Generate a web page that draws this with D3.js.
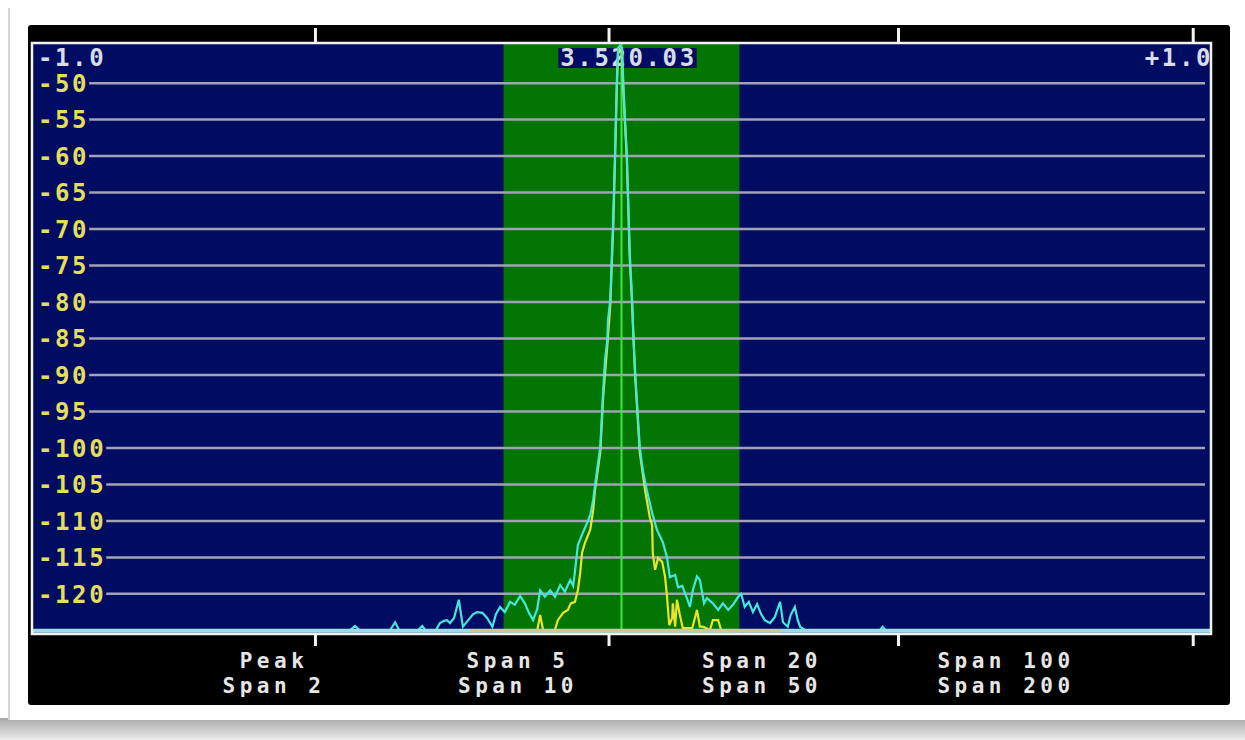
<!DOCTYPE html>
<html>
<head>
<meta charset="utf-8">
<script src="https://d3js.org/d3.v7.min.js"></script>
<style>
body { margin: 0; background: #fff; }
text { font-family: "DejaVu Sans Mono", monospace; font-weight: bold; font-size: 24px; letter-spacing: 2.6px; }
text.span { font-size: 21px; letter-spacing: 4.5px; }
</style>
</head>
<body>
<svg id="chart" width="1245" height="740"></svg>
<script>
// --- data ---
var dbTicks = [-50, -55, -60, -65, -70, -75, -80, -85, -90, -95, -100, -105, -110, -115, -120];
var freqTicks = [-0.52, -0.022, 0.469, 0.969];   // kHz offset of the tick marks
var passband = [-0.2, 0.2];
var centerLabel = "3.520.03";
var edgeLabels = ["-1.0", "+1.0"];
var spanTop = ["Peak", "Span 5", "Span 20", "Span 100"];
var spanBottom = ["Span 2", "Span 10", "Span 50", "Span 200"];

// cyan trace (offset kHz, dB)
var cyanOffset = [-1.0, -0.461, -0.452, -0.444, -0.393, -0.384, -0.377, -0.345, -0.338, -0.332,
  -0.315, -0.308, -0.301, -0.296, -0.291, -0.284, -0.276, -0.269, -0.260, -0.252, -0.245, -0.236,
  -0.228, -0.219, -0.213, -0.206, -0.198, -0.189, -0.181, -0.172, -0.164, -0.157, -0.150, -0.143,
  -0.138, -0.130, -0.121, -0.113, -0.104, -0.096, -0.087, -0.082, -0.079, -0.074, -0.065, -0.060,
  -0.053, -0.048, -0.042, -0.036, -0.031, -0.028, -0.024, -0.023, -0.019, -0.016, -0.014, -0.011,
  -0.008, -0.006, -0.003, 0.001, 0.003, 0.006, 0.009, 0.011, 0.014, 0.018, 0.020, 0.023, 0.026,
  0.031, 0.036, 0.043, 0.052, 0.060, 0.070, 0.077, 0.082, 0.091, 0.096, 0.103, 0.111, 0.116,
  0.121, 0.128, 0.133, 0.140, 0.145, 0.155, 0.164, 0.172, 0.181, 0.189, 0.198, 0.203, 0.209,
  0.216, 0.223, 0.230, 0.237, 0.243, 0.252, 0.260, 0.269, 0.274, 0.282, 0.287, 0.294, 0.299,
  0.303, 0.311, 0.316, 0.438, 0.443, 0.448, 1.0];
var cyanDb = [-125, -125, -124.4, -125, -125, -123.9, -125, -125, -124.4, -125,
  -125, -124.0, -123.7, -123.6, -124.0, -123.3, -120.8, -124.5, -123.6, -122.8, -122.5, -122.6,
  -123.3, -124.5, -122.8, -121.8, -122.5, -121.1, -121.5, -120.3, -121.3, -122.6, -123.6, -122.1,
  -119.5, -120.4, -119.5, -120.4, -118.8, -119.7, -118.1, -118.9, -117.0, -113.3, -111.5, -110.6,
  -109.2, -107.1, -103.4, -99.9, -92.1, -87.9, -85.2, -82.5, -79.7, -72.9, -68.8, -59.8,
  -50.0, -45.2, -44.9, -45.2, -50.0, -55.1, -59.6, -65.1, -73.3, -79.7, -84.5, -89.3, -93.4,
  -99.9, -103.0, -105.8, -108.9, -111.2, -112.9, -114.9, -117.7, -117.4, -119.1, -118.9, -120.6, -121.8,
  -119.5, -117.6, -118.1, -121.3, -120.6, -121.3, -122.2, -121.3, -122.2, -121.5, -120.4, -120.0, -121.8,
  -121.1, -122.5, -121.4, -122.8, -123.6, -124.0, -123.2, -121.1, -123.9, -124.5, -122.9, -121.8, -123.6,
  -124.5, -124.95, -125, -125, -124.5, -125, -125];

// yellow trace (offset kHz, dB)
var yellowOffset = [-0.257, -0.143, -0.138, -0.133, -0.113, -0.108, -0.099, -0.091, -0.086, -0.079,
  -0.074, -0.070, -0.067, -0.062, -0.053, -0.048, -0.045, -0.042, -0.036, -0.031, -0.024, -0.019,
  -0.014, -0.011, -0.008, -0.006, -0.003, 0.001, 0.003, 0.006, 0.009, 0.011, 0.014, 0.018, 0.023,
  0.031, 0.040, 0.048, 0.052, 0.053, 0.057, 0.062, 0.069, 0.074, 0.077, 0.081, 0.086, 0.087, 0.091,
  0.094, 0.099, 0.104, 0.120, 0.128, 0.133, 0.138, 0.150, 0.155, 0.164, 0.169, 0.269];
var yellowDb = [-125, -125, -122.9, -124.95, -124.95, -123.6, -122.6, -122.2, -121.3, -121.1,
  -119.5, -117.1, -114.4, -113.0, -111.2, -108.5, -105.8, -104.1, -100.6, -92.8, -85.9, -80.4,
  -69.4, -60.5, -50.9, -46.1, -45.5, -45.7, -50.7, -55.7, -60.3, -65.7, -74.0, -80.4, -90.0,
  -100.6, -105.8, -109.5, -110.6, -114.4, -116.7, -115.1, -115.6, -117.7, -120.2, -124.3, -123.3, -121.3, -124.5,
  -120.8, -122.9, -124.7, -124.7, -122.2, -124.5, -124.5, -124.95, -123.6, -123.6, -124.95, -125];

var svg = d3.select("#chart");
var plot = {left: 32, right: 1211, top: 43, bottom: 634};

var x = d3.scaleLinear().domain([-1, 1]).range([plot.left, plot.right]);
var y = d3.scaleLinear().domain([-125.5, -44.5]).range([plot.bottom, plot.top]);

// photo card + shadow
var grad = svg.append("defs").append("linearGradient").attr("id", "shadow")
  .attr("x1", 0).attr("y1", 0).attr("x2", 0).attr("y2", 1);
grad.append("stop").attr("offset", "0%").attr("stop-color", "#a8a8a8");
grad.append("stop").attr("offset", "100%").attr("stop-color", "#ececec");
svg.append("rect").attr("x", 0).attr("y", 718).attr("width", 1245).attr("height", 22).attr("fill", "url(#shadow)");
svg.append("rect").attr("x", 10).attr("y", 0).attr("width", 1235).attr("height", 720).attr("fill", "#fff");
svg.append("line").attr("x1", 9).attr("x2", 9).attr("y1", 8).attr("y2", 720)
  .attr("stroke", "#d4d4d4").attr("stroke-width", 2);

// black instrument panel
svg.append("rect").attr("x", 28).attr("y", 25).attr("width", 1202).attr("height", 680)
  .attr("rx", 3).attr("fill", "#000");

// plot background
svg.append("rect").attr("x", plot.left).attr("y", plot.top)
  .attr("width", plot.right - plot.left).attr("height", plot.bottom - plot.top)
  .attr("fill", "#000c62");

// passband
svg.append("rect").attr("x", x(passband[0])).attr("y", plot.top)
  .attr("width", x(passband[1]) - x(passband[0])).attr("height", plot.bottom - plot.top)
  .attr("fill", "#037503");

// dB labels and gridlines
var yl = svg.append("g");
dbTicks.forEach(function(d) {
  var t = yl.append("text").attr("x", 38).attr("y", y(d)).attr("dy", "0.37em")
    .attr("fill", "#e4de5a").text(d);
  var w = t.node().getComputedTextLength();
  yl.insert("line", "text").attr("x1", 38 + w).attr("x2", 1205)
    .attr("y1", y(d)).attr("y2", y(d))
    .attr("stroke", "#a2a2b6").attr("stroke-width", 2.5);
});

// top labels
svg.append("text").attr("x", 38).attr("y", 66).attr("fill", "#d8dce6").text(edgeLabels[0]);
svg.append("text").attr("x", 1213).attr("y", 66).attr("text-anchor", "end").attr("fill", "#d8dce6").text(edgeLabels[1]);
var cg = svg.append("g");
var cl = cg.append("text").attr("x", x(0) + 7).attr("y", 66).attr("text-anchor", "middle")
  .attr("fill", "#d8dce6").text(centerLabel);
var bb = cl.node().getBBox();
cg.insert("rect", "text").attr("x", bb.x - 2).attr("y", 48)
  .attr("width", bb.width + 2).attr("height", 20).attr("fill", "#000c62");

// center marker
svg.append("line").attr("x1", x(0)).attr("x2", x(0)).attr("y1", plot.top).attr("y2", plot.bottom)
  .attr("stroke", "#3fe83f").attr("stroke-width", 2);

var line = d3.line().x(function(d) { return x(d[0]); }).y(function(d) { return y(d[1]); });

var yellow = yellowOffset.map(function(o, i) { return [o, yellowDb[i]]; });
var cyan = cyanOffset.map(function(o, i) { return [o, cyanDb[i]]; });

svg.append("path").datum(yellow).attr("d", line)
  .attr("fill", "none").attr("stroke", "#ece42a").attr("stroke-width", 2.2);
svg.append("path").datum(cyan).attr("d", line)
  .attr("fill", "none").attr("stroke", "#44e6de").attr("stroke-width", 2.2);

// noise floor band
svg.append("line").attr("x1", plot.left).attr("x2", plot.right)
  .attr("y1", y(-125) + 0.5).attr("y2", y(-125) + 0.5)
  .attr("stroke", "#9cdce6").attr("stroke-width", 4);
svg.append("line").attr("x1", x(yellowOffset[0])).attr("x2", x(yellowOffset[yellowOffset.length - 1]))
  .attr("y1", y(-125) + 0.5).attr("y2", y(-125) + 0.5)
  .attr("stroke", "#d4c68c").attr("stroke-width", 3);

// plot border
svg.append("rect").attr("x", plot.left).attr("y", plot.top)
  .attr("width", plot.right - plot.left).attr("height", plot.bottom - plot.top)
  .attr("fill", "none").attr("stroke", "#f2f2f2").attr("stroke-width", 2.5);

// frequency ticks
var ax = svg.append("g").attr("transform", "translate(0," + (plot.top - 1) + ")")
  .call(d3.axisTop(x).tickValues(freqTicks).tickFormat("").tickSize(14).tickSizeOuter(0));
var bx = svg.append("g").attr("transform", "translate(0," + (plot.bottom + 1) + ")")
  .call(d3.axisBottom(x).tickValues(freqTicks).tickFormat("").tickSize(11).tickSizeOuter(0));
[ax, bx].forEach(function(g) {
  g.select(".domain").remove();
  g.selectAll(".tick line").attr("stroke", "#f2f2f2").attr("stroke-width", 3);
});

// span buttons
var sx = d3.scalePoint().domain(spanTop).range([272, 1004]);
svg.selectAll(".spanTop").data(spanTop).enter().append("text")
  .attr("class", "span spanTop").attr("x", function(d) { return sx(d) + 2; }).attr("y", 668)
  .attr("text-anchor", "middle").attr("fill", "#e6e6e6").text(function(d) { return d; });
svg.selectAll(".spanBot").data(spanBottom).enter().append("text")
  .attr("class", "span spanBot").attr("x", function(d, i) { return sx(spanTop[i]) + 2; }).attr("y", 693)
  .attr("text-anchor", "middle").attr("fill", "#e6e6e6").text(function(d) { return d; });
</script>
</body>
</html>
